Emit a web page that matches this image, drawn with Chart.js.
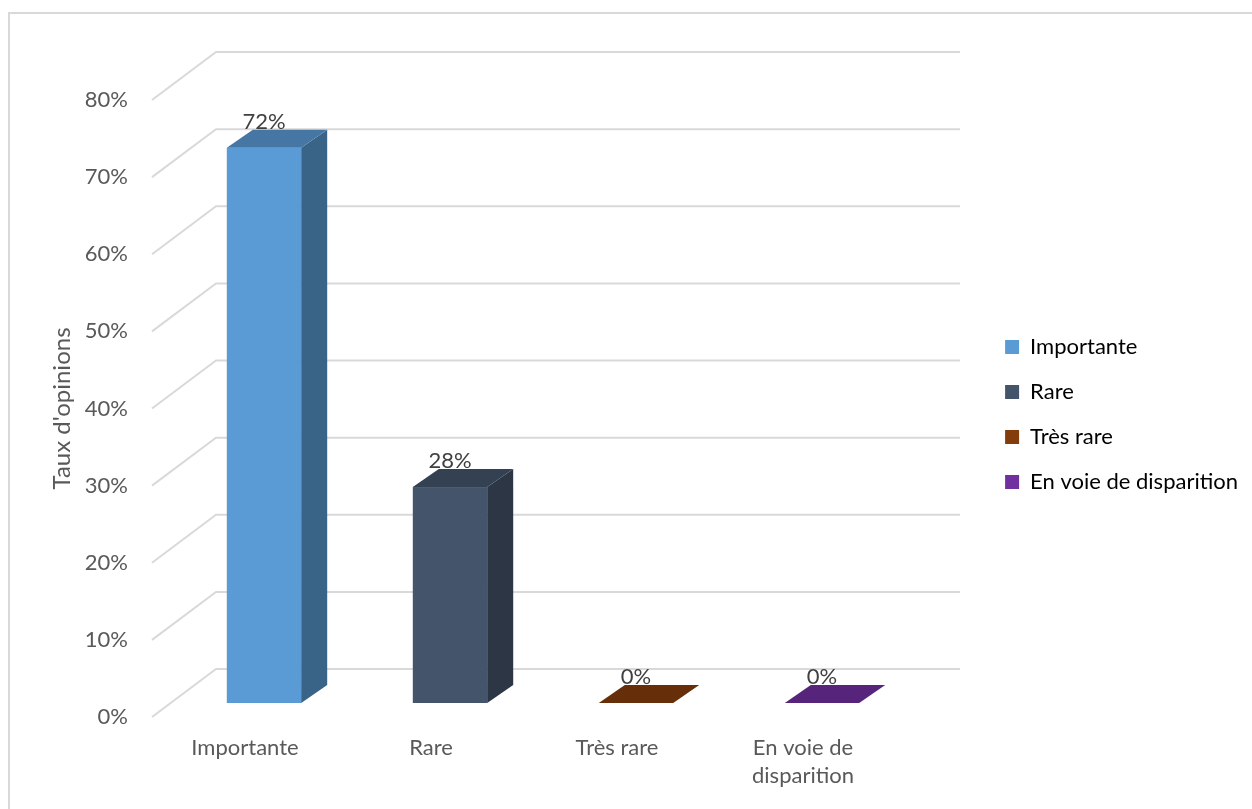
<!DOCTYPE html>
<html>
<head>
<meta charset="utf-8">
<script src="https://cdn.jsdelivr.net/npm/chart.js@4.4.1/dist/chart.umd.min.js"></script>
<style>
  html, body { margin: 0; padding: 0; background: #fff; overflow: hidden; }
  #frame { position: absolute; left: 8px; top: 12px; width: 1300px; height: 900px;
           border-left: 2px solid #d9d9d9; border-top: 2px solid #d9d9d9; }
  #myChart { position: absolute; left: 0; top: 0; }
</style>
</head>
<body>
<div id="frame"></div>
<canvas id="myChart" width="1252" height="809"></canvas>
<script>
const categories = ['Importante', 'Rare', 'Très rare', 'En voie de disparition'];
const axisLabels = ['Importante', 'Rare', 'Très rare', ['En voie de', 'disparition']];
const opinionRates = [72, 28, 0, 0];
const yTicks = [0, 10, 20, 30, 40, 50, 60, 70, 80];
const barColors = ['#5B9BD5', '#44546A', '#843C0C', '#7030A0'];

const textColor = '#595959';
const gridColor = '#d9d9d9';
// 3d offsets (pixels): walls, and front/back faces of the bars
const WALL = { x: 64, y: -48 };
const FRONT = { x: 19, y: -14 };
const BACK = { x: 45, y: -32 };
const PLOT_RIGHT = 896; // right edge of the front plane
const PAD_RIGHT = 4;

Chart.defaults.font.family = 'Lato, "Open Sans", sans-serif';

function shade(hex, k) {
    const n = parseInt(hex.slice(1), 16);
    const r = Math.round(((n >> 16) & 255) * k);
    const g = Math.round(((n >> 8) & 255) * k);
    const b = Math.round((n & 255) * k);
    return `rgb(${r}, ${g}, ${b})`;
}

function fillPoly(ctx, pts) {
    ctx.beginPath();
    ctx.moveTo(pts[0][0], pts[0][1]);
    for (let i = 1; i < pts.length; i++) ctx.lineTo(pts[i][0], pts[i][1]);
    ctx.closePath();
    ctx.fill();
}

const bars3d = {
    id: 'bars3d',
    beforeDatasetsDraw(chart) {
        const ctx = chart.ctx;
        const { left, right } = chart.chartArea;
        const yScale = chart.scales.y;

        ctx.save();
        // side wall + back wall gridlines
        ctx.strokeStyle = gridColor;
        ctx.lineWidth = 2;
        yTicks.forEach(v => {
            const py = yScale.getPixelForValue(v);
            ctx.beginPath();
            ctx.moveTo(left, py);
            ctx.lineTo(left + WALL.x, py + WALL.y);
            ctx.lineTo(right + WALL.x, py + WALL.y);
            ctx.stroke();
        });

        const meta = chart.getDatasetMeta(0);
        meta.data.forEach((bar, i) => {
            const { x, y, base, width } = bar.getProps(['x', 'y', 'base', 'width'], true);
            const x0 = x - width / 2;
            const x1 = x + width / 2;
            const c = barColors[i];

            ctx.fillStyle = c;
            ctx.fillRect(x0 + FRONT.x, y + FRONT.y, width, base - y);

            ctx.fillStyle = shade(c, 0.64);
            fillPoly(ctx, [[x1 + FRONT.x, y + FRONT.y], [x1 + BACK.x, y + BACK.y],
                           [x1 + BACK.x, base + BACK.y], [x1 + FRONT.x, base + FRONT.y]]);

            ctx.fillStyle = shade(c, 0.77);
            fillPoly(ctx, [[x0 + FRONT.x, y + FRONT.y], [x0 + BACK.x, y + BACK.y],
                           [x1 + BACK.x, y + BACK.y], [x1 + FRONT.x, y + FRONT.y]]);
        });

        // value labels
        ctx.fillStyle = '#404040';
        ctx.font = '22px Lato, "Open Sans", sans-serif';
        ctx.textAlign = 'center';
        ctx.textBaseline = 'alphabetic';
        meta.data.forEach((bar, i) => {
            ctx.fillText(opinionRates[i] + '%', bar.x + FRONT.x, bar.y + BACK.y - 1);
        });
        ctx.restore();
        return false;
    }
};

const ctx = document.getElementById('myChart').getContext('2d');
const chart = new Chart(ctx, {
    type: 'bar',
    data: {
        labels: axisLabels,
        datasets: [{
            label: "Taux d'opinions",
            data: opinionRates,
            backgroundColor: barColors,
            categoryPercentage: 1,
            barPercentage: 0.4
        }]
    },
    options: {
        responsive: false,
        animation: false,
        devicePixelRatio: 1,
        layout: { padding: { top: 20, bottom: 0, left: 0, right: PAD_RIGHT } },
        plugins: {
            // empty title only used as top spacing
            title: {
                display: true,
                text: '',
                padding: 0,
                font: { size: 80, lineHeight: 1 }
            },
            legend: {
                position: 'right',
                align: 'center',
                maxWidth: 400,
                onClick: null,
                labels: {
                    boxWidth: 14,
                    boxHeight: 14,
                    padding: 23,
                    color: textColor,
                    font: { size: 22 },
                    generateLabels: () => categories.map((name, i) => ({
                        text: name,
                        fillStyle: barColors[i],
                        strokeStyle: barColors[i],
                        lineWidth: 0,
                        hidden: false,
                        index: i
                    }))
                }
            },
            tooltip: { enabled: false }
        },
        scales: {
            x: {
                grid: { display: false, drawTicks: false },
                border: { display: false },
                ticks: { padding: 17, color: textColor, font: { size: 22, lineHeight: 1.27 } },
                afterFit(scale) { scale.height = 92; }
            },
            y: {
                min: 0,
                max: 80,
                grid: { display: false, drawTicks: false },
                border: { display: false },
                ticks: {
                    stepSize: 10,
                    padding: 24,
                    color: textColor,
                    font: { size: 22 },
                    callback: v => v + '%'
                },
                title: {
                    display: true,
                    text: "Taux d'opinions",
                    color: textColor,
                    font: { size: 24 },
                    padding: { top: 48, bottom: 0 }
                },
                afterFit(scale) { scale.width = 152; }
            },
            gap: {
                position: 'right',
                display: true,
                grid: { display: false, drawTicks: false },
                border: { display: false },
                ticks: { display: false },
                afterFit(scale) {
                    const lw = scale.chart.legend ? scale.chart.legend.width : 260;
                    scale.width = Math.max(0, scale.chart.width - PAD_RIGHT - lw - PLOT_RIGHT);
                }
            }
        }
    },
    plugins: [bars3d]
});
</script>
</body>
</html>
